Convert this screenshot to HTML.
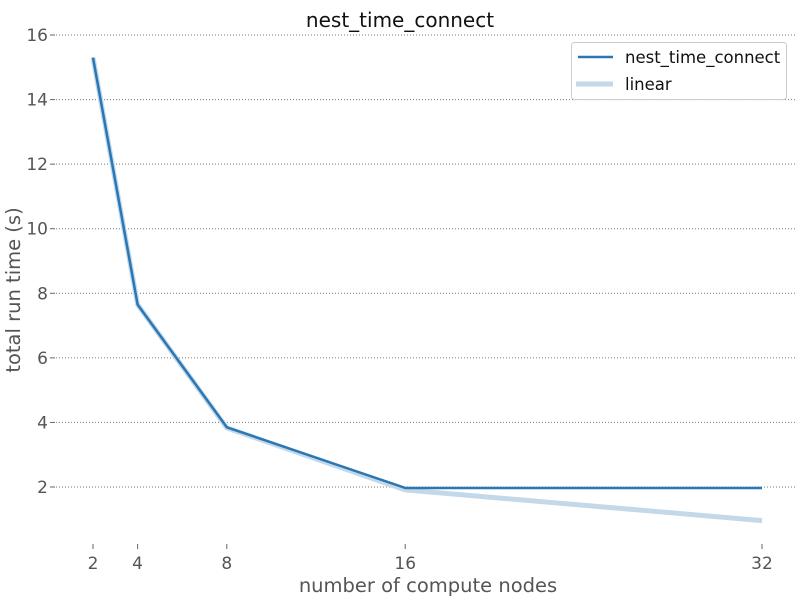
<!DOCTYPE html>
<html><head><meta charset="utf-8"><style>
body{margin:0;background:#fff;}
svg{display:block;font-family:"DejaVu Sans","Liberation Sans",sans-serif;}
</style></head><body>
<svg id="chart" width="800" height="600"></svg>
<script>
const categories=[2,4,8,16,32];
const measured=[15.3,7.65,3.85,1.97,1.97];
const linearRef=[15.3,7.65,3.83,1.91,0.96];
const yTicks=[2,4,6,8,10,12,14,16];
const xTicks=[2,4,8,16,32];
const NS="http://www.w3.org/2000/svg";
const svg=document.getElementById('chart');
function X(v){return 93+(v-2)*(762-93)/30;}
function Y(v){return 487-(v-2)*(487-35)/14;}
function mk(t,a,p){const e=document.createElementNS(NS,t);for(const k in a)e.setAttribute(k,a[k]);(p||svg).appendChild(e);return e;}
yTicks.forEach(v=>{
  const g=mk('line',{x1:56,x2:795,y1:Y(v),y2:Y(v),stroke:'#777','stroke-width':1,'stroke-dasharray':'1,2'});
  
  
  const tk=mk('line',{x1:50,x2:55,y1:Y(v),y2:Y(v),stroke:'#666'});
  
  
  const t=mk('text',{x:48,y:Y(v)+6,'text-anchor':'end','font-size':17,fill:'#555'});
  t.textContent=v;
  
  
});
xTicks.forEach(v=>{
  const tk=mk('line',{x1:X(v),x2:X(v),y1:544,y2:549,stroke:'#666'});
  
  
  const t=mk('text',{x:X(v),y:569,'text-anchor':'middle','font-size':17,fill:'#555'});
  t.textContent=v;
  
  
});
function pts(arr){return arr.map((v,i)=>X(categories[i])+','+Y(v)).join(' ');}
const l2=mk('polyline',{points:pts(linearRef),fill:'none',stroke:'#c3d9ea','stroke-width':5,'stroke-linejoin':'round'});


const l1=mk('polyline',{points:pts(measured),fill:'none',stroke:'#2a77b4','stroke-width':2.5,'stroke-linejoin':'round'});


</script>
<svg width="800" height="600" style="position:absolute;left:0;top:0">
<text x="400" y="27" text-anchor="middle" font-size="20" fill="#111" font-family="DejaVu Sans,Liberation Sans,sans-serif">nest_time_connect</text>
<text x="428" y="592" text-anchor="middle" font-size="19.5" fill="#555" font-family="DejaVu Sans,Liberation Sans,sans-serif">number of compute nodes</text>
<text transform="translate(20,290) rotate(-90)" text-anchor="middle" font-size="19.5" fill="#555" font-family="DejaVu Sans,Liberation Sans,sans-serif">total run time (s)</text>
<g>
<rect x="571.5" y="42.5" width="215" height="57" rx="3" fill="#fff" stroke="#ccc"/>
<line x1="578" x2="613" y1="57" y2="57" stroke="#2a77b4" stroke-width="2.5"/>
<text x="625" y="63" font-size="16.5" fill="#111" font-family="DejaVu Sans,Liberation Sans,sans-serif">nest_time_connect</text>
<line x1="576" x2="613" y1="84" y2="84" stroke="#c3d9ea" stroke-width="5"/>
<text x="625" y="90" font-size="16.5" fill="#111" font-family="DejaVu Sans,Liberation Sans,sans-serif">linear</text>
</g>
</svg>
</body></html>
